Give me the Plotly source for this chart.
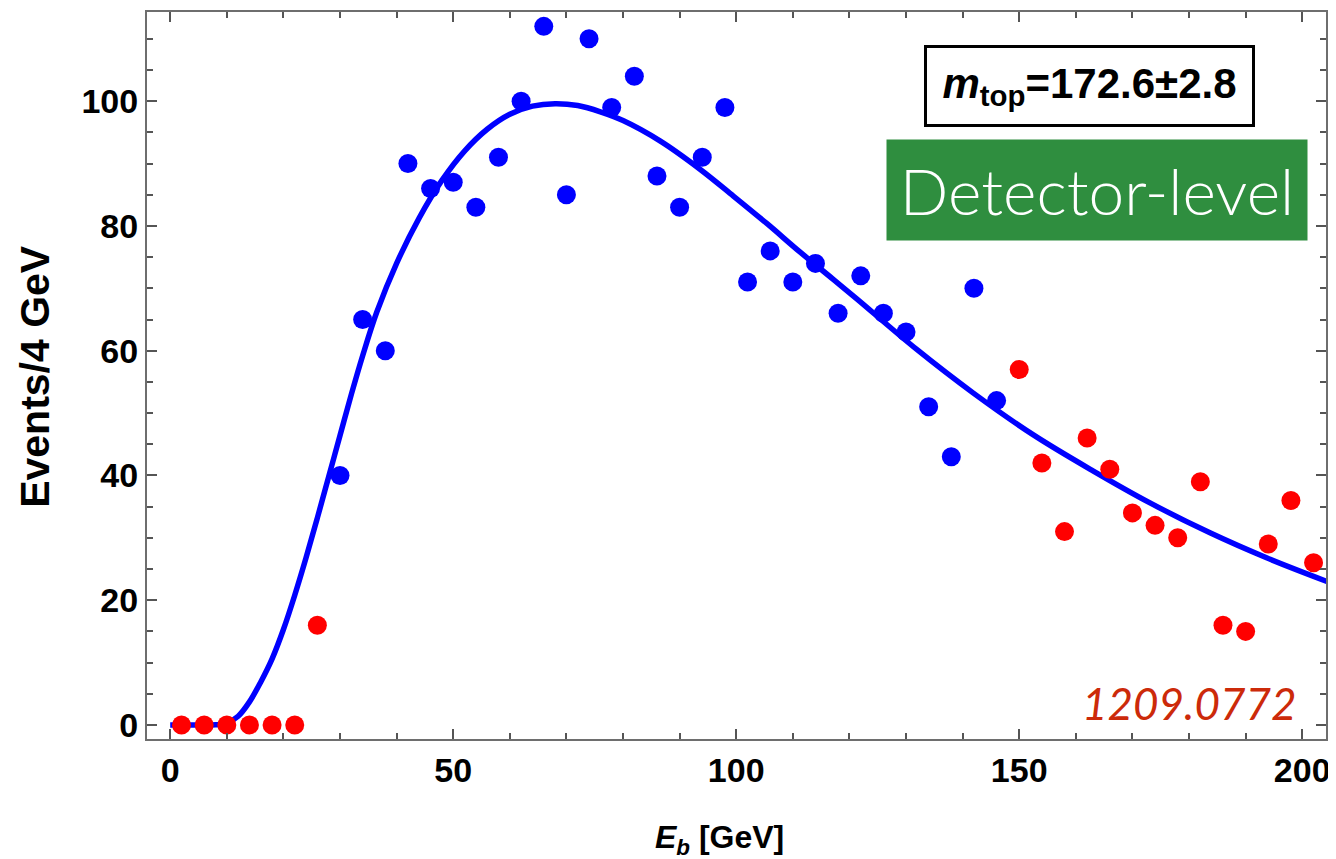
import plotly.graph_objects as go

# ---- data ----
bin_centers = [2, 6, 10, 14, 18, 22, 26, 30, 34, 38, 42, 46, 50, 54, 58, 62, 66, 70, 74, 78,
               82, 86, 90, 94, 98, 102, 106, 110, 114, 118, 122, 126, 130, 134, 138, 142, 146,
               150, 154, 158, 162, 166, 170, 174, 178, 182, 186, 190, 194, 198, 202]
events = [0, 0, 0, 0, 0, 0, 16, 40, 65, 60, 90, 86, 87, 83, 91, 100, 112, 85, 110, 99,
          104, 88, 83, 91, 99, 71, 76, 71, 74, 66, 72, 66, 63, 51, 43, 70, 52,
          57, 42, 31, 46, 41, 34, 32, 30, 39, 16, 15, 29, 36, 26]
fit_min, fit_max = 30, 146  # blue points lie inside the fit window

curve_x = [0, 4, 8, 10, 12, 14, 16, 18, 20, 22, 24, 26, 28, 30, 32, 34, 36.5, 40, 44, 48,
           52, 56, 60, 64, 68, 72, 76, 80, 86.6, 93.6, 99.5, 105.4, 111.3, 117.2, 121.3,
           131.9, 141.9, 152.5, 163.1, 173.1, 183.7, 193.7, 204.4]
curve_y = [0, 0, 0.02, 0.3, 1.4, 3.7, 6.9, 10.6, 15.3, 20.8, 26.8, 33.2, 39.8, 46.4, 53.0,
           59.2, 66.2, 74.0, 81.3, 87.3, 92.0, 95.5, 97.9, 99.2, 99.6, 99.3, 98.3, 96.9,
           93.6, 89.1, 84.8, 80.4, 75.8, 71.4, 68.3, 60.2, 53.2, 46.5, 40.7, 35.6, 30.8,
           26.8, 23.0]

x_ticks = [0, 50, 100, 150, 200]
y_ticks = [0, 20, 40, 60, 80, 100]

in_x = [x for x, y in zip(bin_centers, events) if fit_min <= x <= fit_max]
in_y = [y for x, y in zip(bin_centers, events) if fit_min <= x <= fit_max]
out_x = [x for x, y in zip(bin_centers, events) if not (fit_min <= x <= fit_max)]
out_y = [y for x, y in zip(bin_centers, events) if not (fit_min <= x <= fit_max)]

fig = go.Figure()
fig.add_trace(go.Scatter(x=curve_x, y=curve_y, mode="lines",
                         line=dict(color="#0000ff", width=5.5, shape="spline", smoothing=1.0),
                         hoverinfo="skip", showlegend=False))
fig.add_trace(go.Scatter(x=out_x, y=out_y, mode="markers",
                         marker=dict(color="#ff0000", size=19, line=dict(width=0)),
                         showlegend=False))
fig.add_trace(go.Scatter(x=in_x, y=in_y, mode="markers",
                         marker=dict(color="#0000ff", size=19, line=dict(width=0)),
                         showlegend=False))

tick_font = dict(family="Liberation Sans", size=34, color="black", weight="bold")
axis_common = dict(showline=True, linecolor="#6e6e6e", linewidth=2, mirror="allticks",
                   ticks="inside", ticklen=10, tickwidth=1.5, tickcolor="#555555",
                   showgrid=False, zeroline=False, tickfont=tick_font, automargin=False)

fig.update_xaxes(range=[-4.1, 204.2], tickvals=x_ticks,
                 minor=dict(dtick=10, tick0=0, ticks="inside", ticklen=6, tickcolor="#555555",
                            tickwidth=1.5, showgrid=False),
                 **axis_common)
fig.update_yaxes(range=[-2.25, 114.3], tickvals=y_ticks,
                 minor=dict(dtick=5, tick0=0, ticks="inside", ticklen=6, tickcolor="#555555",
                            tickwidth=1.5, showgrid=False),
                 **axis_common)

annotations = [
    # y-axis title
    dict(x=-0.095, y=0.4995, xref="paper", yref="paper", text="<b>Events/4 GeV</b>",
         textangle=-90, showarrow=False,
         font=dict(family="Liberation Sans", size=41, color="black"),
         xanchor="center", yanchor="middle"),
    # x-axis title
    dict(x=0.429, y=-0.138, xref="paper", yref="paper",
         text="<b><i>E</i><sub><i>b</i></sub> [GeV]</b>",
         showarrow=False, font=dict(family="Liberation Sans", size=32, color="black"),
         xanchor="left", yanchor="middle"),
    # m_top box
    dict(x=162.5, y=102.5, xref="x", yref="y",
         text="<b><i>m</i><sub>top</sub>=172.6±2.8</b>",
         showarrow=False, font=dict(family="Liberation Sans", size=42, color="black"),
         bgcolor="white", bordercolor="black", borderwidth=3, borderpad=0,
         width=325, height=76, align="center", valign="middle",
         xanchor="center", yanchor="middle"),
    # green label
    dict(x=163.7, y=85.7, xref="x", yref="y", text="Detector-level",
         showarrow=False, font=dict(family="Lato", size=64, color="white", weight=300),
         bgcolor="#2f8e3f", borderpad=0, width=420, height=100,
         align="center", valign="middle", xanchor="center", yanchor="middle"),
    # arXiv reference
    dict(x=199.3, y=3.6, xref="x", yref="y", text="<i>1209.0772</i>",
         showarrow=False, font=dict(family="Lato", size=44, color="#cc2a0a"),
         xanchor="right", yanchor="middle"),
]

# the page body adds an 8px offset, so the figure is sized to the remaining window
fig.update_layout(
    width=1328, height=851,
    margin=dict(l=139, r=10, t=4, b=120),
    paper_bgcolor="white", plot_bgcolor="white",
    annotations=annotations,
    showlegend=False,
)

fig.write_html("out.html")
